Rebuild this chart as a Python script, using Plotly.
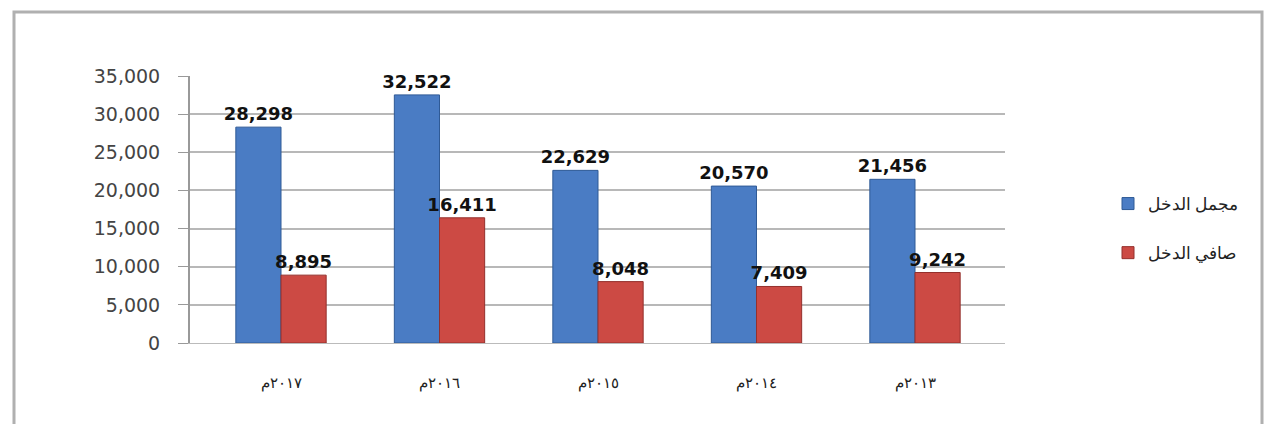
import plotly.graph_objects as go

categories = ["٢٠١٧م", "٢٠١٦م", "٢٠١٥م", "٢٠١٤م", "٢٠١٣م"]
gross_income = [28298, 32522, 22629, 20570, 21456]
net_income = [8895, 16411, 8048, 7409, 9242]
series_names = ["مجمل الدخل", "صافي الدخل"]
tick_vals = [0, 5000, 10000, 15000, 20000, 25000, 30000, 35000]

OFF = 8  # page body margin
W, H = 1274 - 2 * OFF, 432 - 2 * OFF
# target pixel positions in the window
PL, PR, PT, PB = 190, 1005, 76, 343
L, R, T, B = PL - OFF, W - (PR - OFF), PT - OFF, H - (PB - OFF)

pw = W - L - R
ph = H - T - B
def px_x(p):
    return (p - OFF - L) / pw
def px_y(p):
    return (H - B - (p - OFF)) / ph

# category centres (window px) of first and last group
C0, C4 = 281, 915
unit = (C4 - C0) / 4
x_range = [-(C0 - PL) / unit, 4 + (PR - C4) / unit]

label_font = dict(family="DejaVu Sans", size=18, color="#111111", weight="bold")

fig = go.Figure()
fig.add_trace(go.Bar(
    x=categories, y=gross_income, name=series_names[0], legendgroup="a",
    marker=dict(color="#4a7cc4", line=dict(color="#2f5a96", width=1)),
    text=[f"{v:,}" for v in gross_income], textposition="outside",
    textfont=label_font, constraintext="none", cliponaxis=False,
))
fig.add_trace(go.Bar(
    x=categories, y=net_income, name=series_names[1], legendgroup="b",
    marker=dict(color="#cc4a44", line=dict(color="#94302c", width=1)),
    text=[f"{v:,}" for v in net_income], textposition="outside",
    textfont=label_font, constraintext="none", cliponaxis=False,
))

fig.update_layout(
    width=W, height=H,
    margin=dict(l=L, r=R, t=T, b=B),
    paper_bgcolor="white", plot_bgcolor="white",
    barmode="group", bargap=0.43, bargroupgap=0.0,
    font=dict(family="DejaVu Sans", color="#333333"),
    legend=dict(
        x=px_x(1108), y=px_y(186), xanchor="left", yanchor="top",
        font=dict(family="Noto Sans", size=17, color="#222222"),
        tracegroupgap=24, traceorder="grouped",
        itemwidth=30,
    ),
    xaxis=dict(
        range=x_range,
        showgrid=False, showline=True, linecolor="#bbbbbb",
        tickfont=dict(family="Noto Sans", size=15, color="#222222"),
        ticks="", ticklabelstandoff=26,
    ),
    yaxis=dict(
        range=[0, 35000], tickvals=tick_vals, tickformat=",",
        showgrid=True, gridcolor="#b8b8b8", gridwidth=2,
        showline=True, linecolor="#999999", linewidth=2,
        ticks="outside", ticklen=10, tickcolor="#999999",
        ticklabelstandoff=14,
        tickfont=dict(family="DejaVu Sans", size=19, color="#444444"),
        zeroline=False,
    ),
    shapes=[dict(
        type="rect", xref="paper", yref="paper",
        x0=px_x(14), x1=px_x(1262), y0=px_y(426), y1=px_y(12),
        line=dict(color="#b0b0b0", width=3), fillcolor="rgba(0,0,0,0)",
        layer="below",
    )],
)

fig.write_html("out.html")
